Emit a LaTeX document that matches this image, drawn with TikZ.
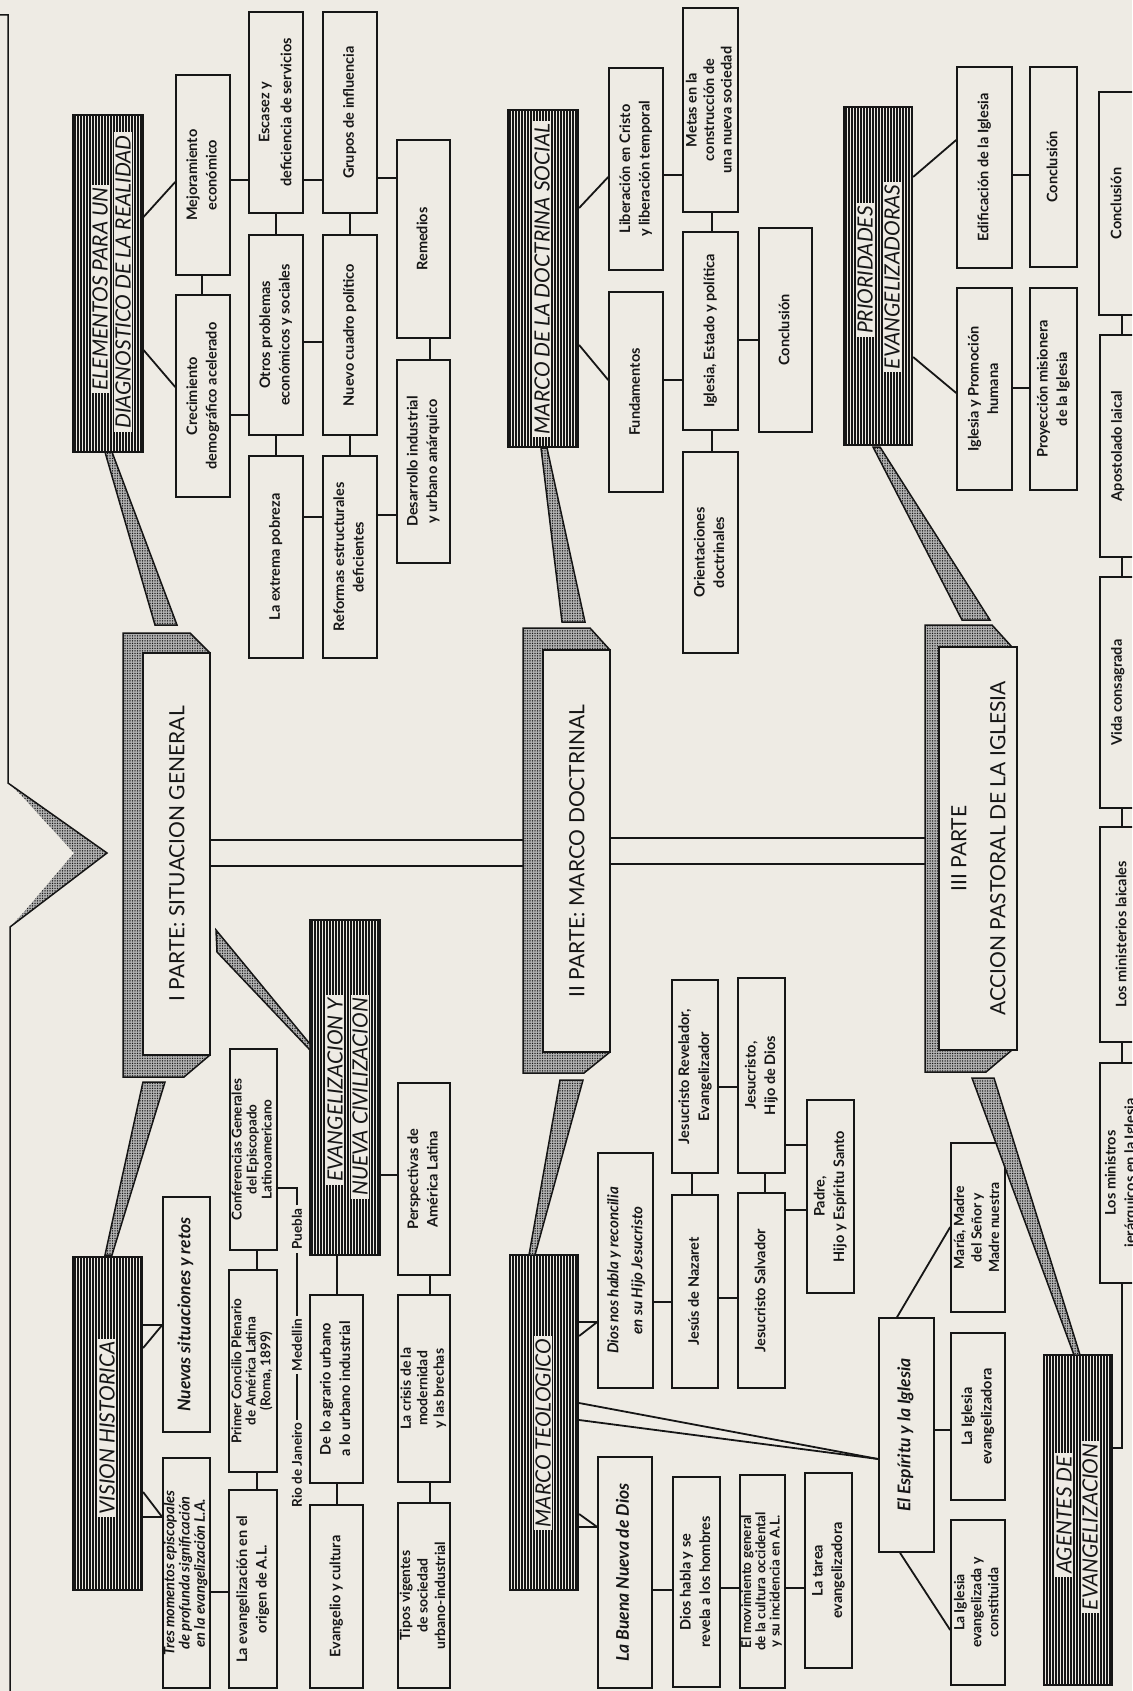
\documentclass[tikz,border=0pt]{standalone}
\usepackage{fontspec}
\setmainfont{Lato}
\usepackage{graphicx}
\usetikzlibrary{patterns,patterns.meta}
\definecolor{bg}{RGB}{238,235,228}
\definecolor{ink}{RGB}{22,22,22}
\newcommand\fs[2]{\fontsize{#1}{#2}\selectfont}
\newcommand\rt[1]{\rotatebox{90}{\begin{tabular}{@{}c@{}}#1\end{tabular}}}
\newcommand\BX[7][]{\node[bx,#1,minimum width={(#5)-(#3)},minimum height={(#6)-(#4)}] (#2) at ({((#3)+(#5))/2},{((#4)+(#6))/2}) {\rt{#7}};}
\newcommand\HD[5]{\node[hd,minimum width={(#4)-(#2)},minimum height={(#5)-(#3)}] (#1) at ({((#2)+(#4))/2},{((#3)+(#5))/2}) {};}
\newcommand\PT[9]{\draw[dots,draw=ink,line width=1.5pt] (#2,#7) -- ({#5-20},#7) -- (#5,#4) -- (#5,#6) -- ({#5-26},#8) -- (#2,#8) -- cycle;
  \node[pt,minimum width={(#5)-(#3)},minimum height={(#6)-(#4)}] (#1) at ({((#3)+(#5))/2},{((#4)+(#6))/2}) {\rt{#9}};}
\newcommand\HL[3]{\draw[ln] (#1.east |- 0,#3) -- (#2.west |- 0,#3);}
\newcommand\VL[3]{\draw[ln] (#1.south -| #3,0) -- (#2.north -| #3,0);}
\newcommand\bxf{\bfseries\fs{14.5}{19.5}}
\newcommand\itf{\bfseries\itshape\fs{17.5}{19}}
\tikzset{
 ln/.style={draw=ink, line width=1.8pt},
 bx/.style={draw=ink, line width=1.6pt, inner sep=0pt, text=ink, font=\bxf},
 hd/.style={draw=ink, line width=2.2pt, inner sep=0pt, preaction={fill=bg}, pattern={Lines[angle=90,distance=3pt,line width=1.05pt]}, pattern color=ink},
 hdt/.style={rotate=90, fill=bg, inner xsep=3pt, inner ysep=1pt, text=ink, font=\fs{21}{24}\itshape},
 dots/.style={preaction={fill=black!30}, pattern={Dots[distance=2.5pt,radius=0.75pt]}, pattern color=ink},
 wedge/.style={dots, draw=ink, line width=1.5pt},
 pt/.style={draw=ink, line width=1.6pt, fill=bg, inner sep=0pt, text=ink, font=\fs{21}{39}},
 lbl/.style={rotate=90, inner sep=3pt, text=ink, font=\bfseries\fs{13.5}{15}},
}
\begin{document}
\begin{tikzpicture}[x=1pt,y=-1pt]
\useasboundingbox (0,0) rectangle (1132,1691);
\clip (0,0) rectangle (1132,1691);
\fill[bg] (0,0) rectangle (1132,1691);

% ---------- bracket ----------
\fill[dots] (8,783) -- (107,853) -- (10,927) -- (24,912) -- (74,853) -- (20,794) -- cycle;
\draw[ln,line width=1.5pt] (0,15) -- (8,15) -- (8,783) -- (107,853) -- (10,927) -- (10,1691);

% ---------- ELEMENTOS ----------
\HD{hEl}{73}{115}{143}{452}
\node[hdt] (tEl1) at (100,289) {ELEMENTOS PARA UN};
\node[hdt] (tEl2) at (123,282) {DIAGNOSTICO DE LA REALIDAD};
\BX{mej}{176}{75}{230}{275}{Mejoramiento\\económico}
\BX{crec}{176}{295}{230}{497}{Crecimiento\\demográfico acelerado}
\BX[font=\bxf\fs{14.5}{22}]{esc}{249}{12}{303}{213}{Escasez y\\deficiencia de servicios}
\BX{otros}{249}{235}{303}{435}{Otros problemas\\económicos y sociales}
\BX{pob}{249}{456}{303}{658}{La extrema pobreza}
\BX{grup}{323}{12}{377}{213}{Grupos de influencia}
\BX{nuevo}{323}{235}{377}{435}{Nuevo cuadro político}
\BX{refo}{323}{456}{377}{658}{Reformas estructurales\\deficientes}
\BX{reme}{397}{140}{450}{338}{Remedios}
\BX{desa}{397}{360}{450}{563}{Desarrollo industrial\\y urbano anárquico}
\draw[ln] (hEl.east |- 0,217) -- (mej.west |- 0,182);
\draw[ln] (hEl.east |- 0,350) -- (crec.west |- 0,387);
\VL{mej}{crec}{202}
\HL{mej}{esc}{180} \HL{esc}{grup}{180} \HL{grup}{reme}{178}
\HL{crec}{otros}{415} \HL{otros}{nuevo}{342}
\HL{pob}{refo}{517} \HL{refo}{desa}{515}
\VL{esc}{otros}{276} \VL{otros}{pob}{276}
\VL{grup}{nuevo}{350} \VL{nuevo}{refo}{350}
\VL{reme}{desa}{430}

% ---------- DOCTRINA SOCIAL ----------
\HD{hDo}{508}{110}{578}{447}
\node[hdt] (tDo) at (542,279) {MARCO DE LA DOCTRINA SOCIAL};
\BX{lib}{609}{68}{663}{270}{Liberación en Cristo\\y liberación temporal}
\BX{fund}{609}{292}{663}{492}{Fundamentos}
\BX[font=\bxf\fs{14.5}{17.5}]{metas}{683}{8}{738}{212}{Metas en la\\construcción de\\una nueva sociedad}
\BX{igl}{683}{232}{738}{430}{Iglesia, Estado y política}
\BX{orie}{683}{452}{738}{653}{Orientaciones\\doctrinales}
\BX{con1}{759}{228}{812}{432}{Conclusión}
\draw[ln] (hDo.east |- 0,208) -- (lib.west |- 0,177);
\draw[ln] (hDo.east |- 0,345) -- (fund.west |- 0,380);
\HL{lib}{metas}{175} \HL{fund}{igl}{380}
\VL{metas}{igl}{712} \VL{igl}{orie}{712}
\HL{igl}{con1}{340}

% ---------- PRIORIDADES ----------
\HD{hPr}{844}{107}{912}{445}
\node[hdt] (tPr1) at (865,270) {PRIORIDADES};
\node[hdt] (tPr2) at (892,277) {EVANGELIZADORAS};
\BX{edif}{957}{67}{1012}{268}{Edificación de la Iglesia}
\BX{promo}{957}{288}{1012}{490}{Iglesia y Promoción\\humana}
\BX{con2}{1030}{67}{1077}{267}{Conclusión}
\BX{proy}{1030}{288}{1077}{490}{Proyección misionera\\de la Iglesia}
\draw[ln] (hPr.east |- 0,177) -- (edif.west |- 0,140);
\draw[ln] (hPr.east |- 0,357) -- (promo.west |- 0,393);
\HL{edif}{con2}{175} \HL{promo}{proy}{388}

% ---------- right column (agentes) ----------
\BX{con3}{1099}{92}{1136}{315}{Conclusión}
\BX{apos}{1100}{335}{1136}{557}{Apostolado laical}
\BX{vida}{1100}{577}{1136}{808}{Vida consagrada}
\BX{minl}{1100}{827}{1145}{1042}{Los ministerios laicales}
\BX{minj}{1100}{1063}{1143}{1283}{Los ministros\\jerárquicos en la Iglesia}
\VL{con3}{apos}{1122} \VL{apos}{vida}{1122} \VL{vida}{minl}{1122} \VL{minl}{minj}{1122}

% ---------- VISION HISTORICA ----------
\HD{hVi}{73}{1257}{142}{1590}
\node[hdt] (tVi) at (107,1428) {VISION HISTORICA};
\BX[font=\itf]{nuev}{163}{1197}{210}{1432}{Nuevas situaciones y retos}
\BX[font=\bfseries\itshape\fs{14.5}{15}]{tres}{163}{1458}{210}{1688}{Tres momentos episcopales\\de profunda significación\\en la evangelización L.A.}
\BX[font=\bxf\fs{13.5}{14}]{prim}{229}{1270}{277}{1472}{Primer Concilio Plenario\\de América Latina\\(Roma, 1899)}
\BX{laev}{229}{1490}{277}{1688}{La evangelización en el\\origen de A.L.}
\BX[font=\bxf\fs{13.5}{15}]{conf}{230}{1049}{277}{1250}{Conferencias Generales\\del Episcopado\\Latinoamericano}
\BX{agra}{310}{1295}{363}{1483}{De lo agrario urbano\\a lo urbano industrial}
\BX{evcu}{310}{1505}{363}{1688}{Evangelio y cultura}
\HD{hEv}{310}{920}{380}{1255}
\node[hdt] (tEv1) at (335,1090) {EVANGELIZACION Y};
\node[hdt] (tEv2) at (360,1097) {NUEVA CIVILIZACION};
\BX{pers}{398}{1083}{450}{1275}{Perspectivas de\\América Latina}
\BX[font=\bxf\fs{14}{16.5}]{cris}{398}{1295}{450}{1482}{La crisis de la\\modernidad\\y las brechas}
\BX[font=\bxf\fs{14}{17.5}]{tipo}{398}{1503}{450}{1688}{Tipos vigentes\\de sociedad\\urbano-industrial}
\draw[ln] (hVi.east |- 0,1325) -- (nuev.west |- 0,1325);
\draw[ln] (hVi.east |- 0,1348) -- (nuev.west |- 0,1325);
\draw[ln] (hVi.east |- 0,1517) -- (tres.west |- 0,1517);
\draw[ln] (hVi.east |- 0,1492) -- (tres.west |- 0,1517);
\VL{conf}{prim}{257} \VL{prim}{laev}{257}
\HL{tres}{laev}{1592}
\VL{hEv}{agra}{337} \VL{agra}{evcu}{337}
\HL{hEv}{pers}{1175}
\VL{pers}{cris}{430} \VL{cris}{tipo}{430}
\node[lbl] (rio) at (297,1465) {Rio de Janeiro};
\node[lbl] (med) at (297,1345) {Medellin};
\node[lbl] (pue) at (297,1229) {Puebla};
\draw[ln,line width=1.3pt] (rio.east) -- (med.west);
\draw[ln,line width=1.3pt] (med.east) -- (pue.west);
\draw[ln,line width=1.3pt] (pue.east) |- (conf.east |- 0,1188);

% ---------- MARCO TEOLOGICO ----------
\HD{hTe}{510}{1255}{578}{1590}
\node[hdt] (tTe) at (543,1433) {MARCO TEOLOGICO};
\BX[font=\bfseries\itshape\fs{15}{24}]{dio1}{598}{1153}{653}{1388}{Dios nos habla y reconcilia\\en su Hijo Jesucristo}
\BX[font=\itf]{buen}{598}{1457}{652}{1688}{La Buena Nueva de Dios}
\BX{jnaz}{672}{1195}{718}{1388}{Jesús de Nazaret}
\BX[font=\bxf\fs{14.5}{20}]{jrev}{672}{980}{718}{1173}{Jesucristo Revelador,\\Evangelizador}
\BX{dhab}{673}{1477}{720}{1687}{Dios habla y se\\revela a los hombres}
\BX{jhij}{738}{978}{785}{1173}{Jesucristo,\\Hijo de Dios}
\BX{jsal}{738}{1193}{785}{1388}{Jesucristo Salvador}
\BX{padr}{807}{1100}{854}{1293}{Padre,\\Hijo y Espíritu Santo}
\BX[font=\bxf\fs{13.5}{14}]{movi}{740}{1475}{785}{1688}{El movimiento general\\de la cultura occidental\\y su incidencia en A.L.}
\BX{tare}{805}{1473}{852}{1668}{La tarea\\evangelizadora}
\BX[font=\itf]{espi}{879}{1318}{934}{1552}{El Espíritu y la Iglesia}
\BX[font=\bxf\fs{14}{17.5}]{mari}{951}{1143}{1005}{1312}{María, Madre\\del Señor y\\Madre nuestra}
\BX{igle}{951}{1333}{1005}{1500}{La Iglesia\\evangelizadora}
\BX[font=\bxf\fs{14}{17}]{iglc}{951}{1520}{1005}{1685}{La Iglesia\\evangelizada y\\constituida}
\draw[ln] (hTe.east |- 0,1322) -- (dio1.west |- 0,1322);
\draw[ln] (hTe.east |- 0,1336) -- (dio1.west |- 0,1322);
\draw[ln] (hTe.east |- 0,1527) -- (buen.west |- 0,1527);
\draw[ln] (hTe.east |- 0,1514) -- (buen.west |- 0,1527);
\draw[ln] (hTe.east |- 0,1403) -- (espi.west |- 0,1459);
\draw[ln] (hTe.east |- 0,1420) -- (espi.west |- 0,1459);
\VL{jrev}{jnaz}{692} \HL{dio1}{jnaz}{1302} \HL{jrev}{jhij}{1087}
\VL{jhij}{jsal}{765} \HL{jnaz}{jsal}{1298}
\HL{jhij}{padr}{1145} \HL{jsal}{padr}{1210}
\HL{buen}{dhab}{1590} \HL{dhab}{movi}{1588} \HL{movi}{tare}{1588}
\draw[ln] (espi.north -| 897,0) -- (mari.west |- 0,1227);
\HL{espi}{igle}{1430}
\draw[ln] (espi.south -| 900,0) -- (iglc.west |- 0,1630);

% ---------- AGENTES ----------
\HD{hAg}{1044}{1355}{1112}{1685}
\node[hdt] (tAg1) at (1064,1515) {AGENTES DE};
\node[hdt] (tAg2) at (1090,1527) {EVANGELIZACION};
\draw[ln] (hAg.east |- 0,1448) -| (minj.south -| 1122,0);

% ---------- PARTS ----------
\PT{p1}{123}{143}{653}{210}{1055}{633}{1077}{I PARTE: SITUACION GENERAL}
\PT{p2}{523}{543}{650}{610}{1052}{628}{1073}{II PARTE: MARCO DOCTRINAL}
\PT{p3}{925}{944}{647}{1012}{1050}{625}{1072}{III PARTE\\ACCION PASTORAL DE LA IGLESIA}
\coordinate (p2L) at (523,850);
\coordinate (p3L) at (925,850);
\draw[ln] (p1.east |- 0,840) -- (p2L |- 0,840);
\draw[ln] (p1.east |- 0,866) -- (p2L |- 0,866);
\draw[ln] (p2.east |- 0,838) -- (p3L |- 0,838);
\draw[ln] (p2.east |- 0,864) -- (p3L |- 0,864);

% ---------- pointer wedges ----------
\draw[wedge] (105,452) -- (112,452) -- (177,625) -- (155,625) -- cycle;
\draw[wedge] (143,1082) -- (165,1082) -- (112,1255) -- (105,1255) -- cycle;
\draw[wedge] (216,930) -- (310,1044) -- (310,1050) -- (217,952) -- cycle;
\draw[wedge] (541,448) -- (547,448) -- (585,622) -- (562,622) -- cycle;
\draw[wedge] (560,1080) -- (583,1080) -- (535,1255) -- (529,1255) -- cycle;
\draw[wedge] (873,447) -- (880,447) -- (990,620) -- (962,620) -- cycle;
\draw[wedge] (972,1078) -- (994,1078) -- (1080,1355) -- (1074,1355) -- cycle;
\end{tikzpicture}
\end{document}
